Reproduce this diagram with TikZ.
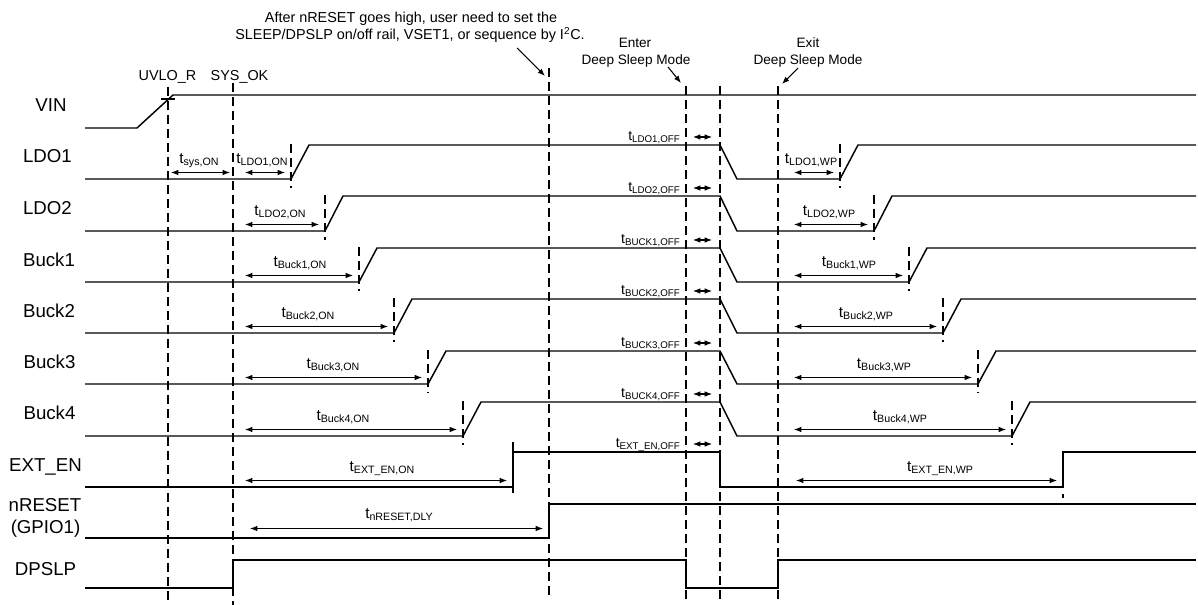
\documentclass[tikz,border=0pt]{standalone}
\usepackage{fontspec}
\setmainfont{Liberation Sans}
\usetikzlibrary{arrows.meta}
\newcommand{\tm}[2][8]{t\raisebox{-0.3ex}{\fontsize{#1}{#1}\selectfont #2}}
\newcommand{\railrow}[4]{%
  \draw[sig] (85,#2) -- (#3,#2) -- ({#3+18},#1) -- (720,#1) -- (737,#2) -- (#4,#2) -- ({#4+18},#1) -- (1196,#1);
  \draw[tickdash] (#3,{#1-1}) -- (#3,{#2+9});
  \draw[tickdash] (#4,{#1-1}) -- (#4,{#2+9});
  \draw[dim] (693,{#1-8}) -- (712,{#1-8});
  \draw[dim] (245,{#2-6.5}) -- ({#3-6},{#2-6.5});
  \draw[dim] (794,{#2-6.5}) -- ({#4-6},{#2-6.5});
}
\begin{document}
\begin{tikzpicture}[x=0.75pt,y=-0.75pt,
 sig/.style={line width=1.1pt},
 vdash/.style={line width=1pt,dash pattern=on 7pt off 3.5pt},
 tickdash/.style={line width=1pt,dash pattern=on 7pt off 3.5pt},
 dim/.style={line width=0.8pt,{Latex[length=5.5pt,width=4.2pt]}-{Latex[length=5.5pt,width=4.2pt]}},
 callout/.style={line width=0.8pt,-{Latex[length=5.5pt,width=4.2pt]}},
 siglab/.style={font=\fontsize{14}{16}\selectfont,anchor=base,inner sep=0pt},
 tlab/.style={font=\fontsize{11.5}{13}\selectfont,anchor=base,inner sep=0pt},
 offlab/.style={font=\fontsize{10.5}{12}\selectfont,anchor=base east,inner sep=0pt},
 note/.style={font=\fontsize{10.8}{12}\selectfont,anchor=base,inner sep=0pt},
 dsm/.style={font=\fontsize{10.2}{12}\selectfont,anchor=base,inner sep=0pt},
]
\useasboundingbox (0,0) rectangle (1198,605);

% main vertical dashed lines
\draw[vdash] (168,87) -- (168,600);
\draw[vdash] (233,83) -- (233,605);
\draw[vdash] (549,68) -- (549,598);
\draw[vdash] (686,86) -- (686,601);
\draw[vdash] (720,86) -- (720,601);
\draw[vdash] (778,86) -- (778,600);

% top texts
\node[note] (n1) at (411,22.5) {After nRESET goes high, user need to set the};
\node[note] (n2) at (410,40) {SLEEP/DPSLP on/off rail, VSET1, or sequence by I\textsuperscript{2}C.};
\node[dsm] (en1) at (635,48) {Enter};
\node[dsm] (en2) at (636,65) {Deep Sleep Mode};
\node[dsm] (ex1) at (808,48) {Exit};
\node[dsm] (ex2) at (808,65) {Deep Sleep Mode};
\node[note] (uvlo) at (167.5,81) {UVLO\_R};
\node[note] (sysok) at (239.5,81) {SYS\_OK};

\coordinate (cAs) at (517,48); \coordinate (cAe) at (545,76);
\coordinate (cBs) at (668,67); \coordinate (cBe) at (681,83);
\coordinate (cCs) at (798,68); \coordinate (cCe) at (782,84);
\draw[callout] (cAs) -- (cAe);
\draw[callout] (cBs) -- (cBe);
\draw[callout] (cCs) -- (cCe);

% signal labels
\node[siglab] (lvin) at (51,112) {VIN};
\node[siglab] (lldo1) at (47.5,163) {LDO1};
\node[siglab] (lldo2) at (47.5,215) {LDO2};
\node[siglab] (lb1) at (49,266.5) {Buck1};
\node[siglab] (lb2) at (49,317.5) {Buck2};
\node[siglab] (lb3) at (49.5,368.5) {Buck3};
\node[siglab] (lb4) at (49.5,420) {Buck4};
\node[siglab] (lext) at (45.5,471) {EXT\_EN};
\node[siglab] (lnr1) at (45,511) {nRESET};
\node[siglab] (lnr2) at (45.5,533) {(GPIO1)};
\node[siglab] (ldp) at (45.5,575) {DPSLP};

% VIN
\draw[sig] (85,128) -- (137,128) -- (173,95) -- (1196,95);
\draw[line width=0.8pt] (161,99) -- (175,99);

% rails
\railrow{145}{179}{291}{840}
\railrow{196}{231}{325}{874}
\railrow{248}{282}{359}{909}
\railrow{299}{333}{394}{943}
\railrow{351}{384}{428}{978}
\railrow{402}{436}{463}{1012}

% sys,ON
\draw[dim] (171,172.5) -- (230,172.5);
\node[tlab] (tsys) at (199,163.5) {\tm{sys,ON}};

% ON labels
\node[tlab] (on1) at (262,163.5) {\tm{LDO1,ON}};
\node[tlab] (on2) at (280,215.5) {\tm{LDO2,ON}};
\node[tlab] (on3) at (300,266.5) {\tm{Buck1,ON}};
\node[tlab] (on4) at (308,317.5) {\tm{Buck2,ON}};
\node[tlab] (on5) at (333,368.5) {\tm{Buck3,ON}};
\node[tlab] (on6) at (343,420.5) {\tm{Buck4,ON}};
% WP labels
\node[tlab] (wp1) at (811,163.5) {\tm{LDO1,WP}};
\node[tlab] (wp2) at (829,215.5) {\tm{LDO2,WP}};
\node[tlab] (wp3) at (849,266.5) {\tm{Buck1,WP}};
\node[tlab] (wp4) at (866,317.5) {\tm{Buck2,WP}};
\node[tlab] (wp5) at (884,368.5) {\tm{Buck3,WP}};
\node[tlab] (wp6) at (900,420.5) {\tm{Buck4,WP}};
% OFF labels
\node[offlab] (off1) at (680,140.5) {\tm[7.3]{LDO1,OFF}};
\node[offlab] (off2) at (680,191.5) {\tm[7.3]{LDO2,OFF}};
\node[offlab] (off3) at (680,243.5) {\tm[7.3]{BUCK1,OFF}};
\node[offlab] (off4) at (680,294.5) {\tm[7.3]{BUCK2,OFF}};
\node[offlab] (off5) at (680,346.5) {\tm[7.3]{BUCK3,OFF}};
\node[offlab] (off6) at (680,397.5) {\tm[7.3]{BUCK4,OFF}};
\node[offlab] (off7) at (680,447.5) {\tm[7.3]{EXT\_EN,OFF}};

% EXT_EN
\draw[sig] (85,487) -- (513,487) -- (513,452) -- (720,452) -- (720,487) -- (1063,487) -- (1063,452) -- (1196,452);
\draw[tickdash] (513,442) -- (513,498);
\draw[line width=1pt] (1063,494) -- (1063,498);
\draw[dim] (245,480.5) -- (507,480.5);
\draw[dim] (693,444) -- (712,444);
\draw[dim] (796,480.5) -- (1057,480.5);
\node[tlab] (onx) at (382,471.5) {\tm{EXT\_EN,ON}};
\node[tlab] (wpx) at (940,471.5) {\tm{EXT\_EN,WP}};

% nRESET
\draw[sig] (85,538) -- (549,538) -- (549,504) -- (1196,504);
\draw[dim] (250,528.5) -- (543,528.5);
\node[tlab] (dly) at (399,518) {\tm{nRESET,DLY}};

% DPSLP
\draw[sig] (85,588) -- (233,588) -- (233,560) -- (686,560) -- (686,588) -- (778,588) -- (778,560) -- (1196,560);
\end{tikzpicture}
\end{document}
